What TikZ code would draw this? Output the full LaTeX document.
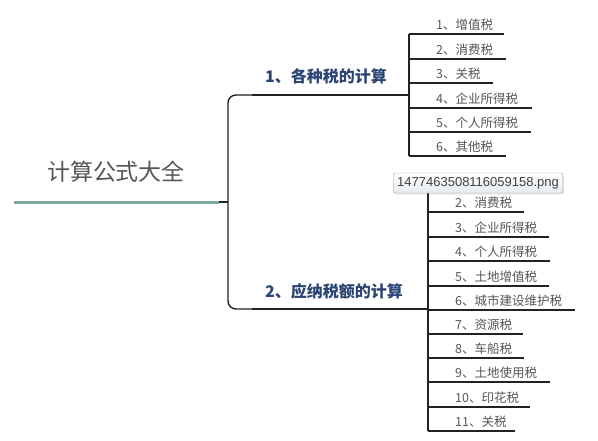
\documentclass[tikz,border=0pt]{standalone}
\usepackage{fontspec}
\newfontfamily\cjk{Noto Sans CJK SC}
\newfontfamily\tipfont{Liberation Sans}
\usetikzlibrary{shadows}
\definecolor{leafgray}{HTML}{555555}
\definecolor{branchblue}{HTML}{2B4575}
\definecolor{rootteal}{HTML}{7FA9A1}
\definecolor{linedark}{HTML}{222222}
\definecolor{tipborder}{HTML}{A0A4AA}
\definecolor{tipbottom}{HTML}{E6EAF0}
\tikzset{
  roottext/.style={font=\cjk\fontsize{23}{23}\selectfont, text=leafgray, inner sep=0},
  branchlabel/.style={font=\cjk\bfseries\fontsize{16}{16}\selectfont, text=branchblue, inner sep=0, anchor=west},
  leaf/.style={font=\cjk\fontsize{12.5}{12.5}\selectfont, text=leafgray, inner sep=0, anchor=west},
  leafline/.style={draw=linedark, line width=1.8pt},
  bracketline/.style={draw=linedark, line width=1.4pt},
  branchline/.style={draw=linedark, line width=2.8pt},
  tooltip/.style={font=\tipfont\fontsize{13}{13}\selectfont, text=black!75, draw=tipborder,
    rounded corners=2pt, top color=white, bottom color=tipbottom, minimum height=20pt,
    inner xsep=4pt, anchor=west, drop shadow={opacity=0.18, shadow xshift=1pt, shadow yshift=-1.5pt}}
}
\begin{document}
\begin{tikzpicture}[x=1pt,y=-1pt]
\useasboundingbox (0,0) rectangle (598,440);
% root
\node[roottext] (root) at (116,172) {计算公式大全};
\coordinate (rootL) at (14,202);
\coordinate (rootR) at (219,202);
\coordinate (fork) at (228,202);
\draw[rootteal, line width=3pt] (rootL) -- (rootR);
\draw[bracketline] (rootR) -- (fork);
% branches
\coordinate (b1s) at (252,95);
\coordinate (b1e) at (409,95);
\coordinate (b2s) at (252,309);
\coordinate (b2e) at (428,309);
\draw[bracketline, rounded corners=8pt] (b1s) -| (fork) |- (b2s);
\draw[branchline] (b1s) -- (b1e);
\draw[branchline] (b2s) -- (b2e);
\node[branchlabel] (lab1) at (265,76) {1、各种税的计算};
\node[branchlabel] (lab2) at (265,291) {2、应纳税额的计算};
% group 1
\coordinate (g1top) at (409,34);
\coordinate (g1bot) at (409,156);
\draw[leafline] (g1top) -- (g1bot);
\foreach \i/\y/\e/\t in {1/34/504/1、增值税, 2/59/506/2、消费税, 3/83/493/3、关税,
  4/108/532/4、企业所得税, 5/132/531/5、个人所得税, 6/156/506/6、其他税}{
  \coordinate (g1a\i) at (409,\y);
  \coordinate (g1b\i) at (\e,\y);
  \draw[leafline] (g1a\i) -- (g1b\i);
  \node[leaf] (g1t\i) at (436,{\y-9}) {\t};
}
% group 2
\coordinate (g2top) at (428,188);
\coordinate (g2bot) at (428,431);
\draw[leafline] (g2top) -- (g2bot);
\coordinate (g2a1) at (428,188);
\coordinate (g2b1) at (520,188);
\draw[leafline] (g2a1) -- (g2b1);
\foreach \i/\y/\e/\t in {2/212/524/2、消费税, 3/237/549/3、企业所得税, 4/261/550/4、个人所得税,
  5/286/549/5、土地增值税, 6/310/575/6、城市建设维护税, 7/334/523/7、资源税,
  8/358/524/8、车船税, 9/382/550/9、土地使用税, 10/407/530/10、印花税, 11/431/515/11、关税}{
  \coordinate (g2a\i) at (428,\y);
  \coordinate (g2b\i) at (\e,\y);
  \draw[leafline] (g2a\i) -- (g2b\i);
  \node[leaf] (g2t\i) at (455,{\y-9}) {\t};
}
% tooltip
\node[tooltip] (tip) at (393,183) {1477463508116059158.png};
\end{tikzpicture}
\end{document}
